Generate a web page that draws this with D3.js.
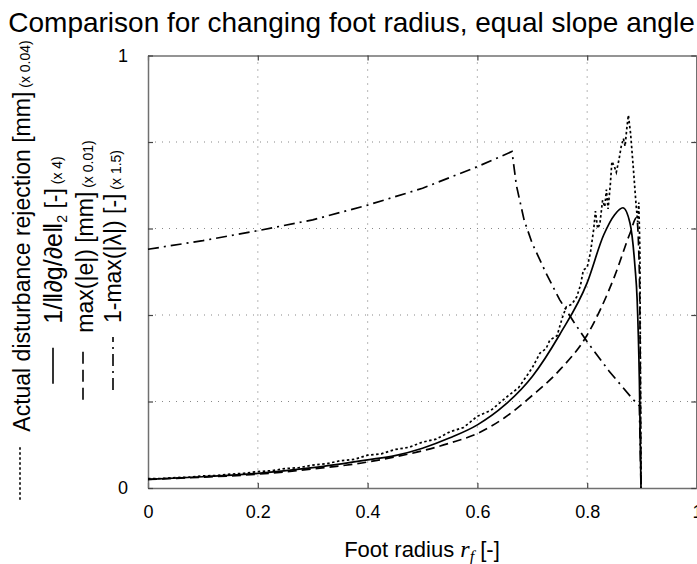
<!DOCTYPE html>
<html>
<head>
<meta charset="utf-8">
<script src="https://cdn.jsdelivr.net/npm/d3@7"></script>
<style>
  body { margin: 0; background: #fff; }
  svg { display: block; font-family: "Liberation Sans", Arial, sans-serif; }
</style>
</head>
<body>
<script>
// foot radius samples and values per series (already scaled as in the legend)
const rfActual = [0, 0.025, 0.05, 0.075, 0.1, 0.125, 0.15, 0.175, 0.2, 0.225, 0.25, 0.275, 0.3, 0.325, 0.35, 0.375, 0.4, 0.425, 0.45, 0.475, 0.5, 0.525, 0.55, 0.575, 0.6, 0.625, 0.65, 0.675, 0.7, 0.714, 0.725, 0.732, 0.745, 0.755, 0.762, 0.772, 0.781, 0.788, 0.793, 0.8, 0.806, 0.812, 0.815, 0.819, 0.823, 0.828, 0.832, 0.835, 0.838, 0.842, 0.845, 0.849, 0.853, 0.858, 0.862, 0.866, 0.869, 0.872, 0.875, 0.879, 0.884, 0.889, 0.892, 0.894, 0.896, 0.898]
const actual = [0.022, 0.022, 0.024, 0.025, 0.028, 0.029, 0.032, 0.034, 0.038, 0.040, 0.045, 0.047, 0.053, 0.056, 0.063, 0.066, 0.076, 0.079, 0.089, 0.094, 0.106, 0.113, 0.130, 0.140, 0.166, 0.180, 0.207, 0.232, 0.278, 0.312, 0.322, 0.342, 0.352, 0.395, 0.419, 0.425, 0.442, 0.47, 0.504, 0.51, 0.545, 0.600, 0.640, 0.600, 0.61, 0.665, 0.650, 0.690, 0.645, 0.700, 0.755, 0.745, 0.730, 0.760, 0.790, 0.808, 0.790, 0.830, 0.862, 0.820, 0.74, 0.655, 0.615, 0.660, 0.55, 0]

const rfGain = [0, 0.1, 0.2, 0.3, 0.4, 0.45, 0.5, 0.55, 0.6, 0.65, 0.7, 0.75, 0.8, 0.83, 0.85, 0.865, 0.878, 0.887, 0.891, 0.895, 0.898]
const gain = [0.020, 0.026, 0.034, 0.047, 0.065, 0.075, 0.092, 0.116, 0.146, 0.192, 0.258, 0.355, 0.475, 0.585, 0.632, 0.648, 0.612, 0.512, 0.435, 0.25, 0]

const rfErr = [0, 0.1, 0.2, 0.3, 0.4, 0.45, 0.5, 0.55, 0.6, 0.65, 0.7, 0.75, 0.8, 0.85, 0.878, 0.89, 0.895, 0.898]
const maxErr = [0.020, 0.025, 0.032, 0.044, 0.060, 0.072, 0.086, 0.104, 0.126, 0.163, 0.214, 0.273, 0.354, 0.49, 0.589, 0.625, 0.50, 0]

const rfEig = [0, 0.1, 0.2, 0.3, 0.4, 0.5, 0.6, 0.663, 0.671, 0.685, 0.7, 0.725, 0.75, 0.775, 0.8, 0.84, 0.884, 0.895, 0.898]
const eig = [0.552, 0.572, 0.595, 0.62, 0.654, 0.693, 0.743, 0.778, 0.70, 0.62, 0.565, 0.497, 0.435, 0.385, 0.338, 0.27, 0.204, 0.19, 0]

const xTicks = [0, 0.2, 0.4, 0.6, 0.8, 1]
const xTickLabels = ["0", "0.2", "0.4", "0.6", "0.8", "1"]
const yTicks = [0, 0.2, 0.4, 0.6, 0.8, 1]
const yTickLabels = ["0", "", "", "", "", "1"]

const width = 697
const height = 564
const mLeft = 148, mRight = 697, mTop = 55.5, mBottom = 488

const svg = d3.select("body").append("svg")
    .attr("width", width)
    .attr("height", height)

const x = d3.scaleLinear().domain([0, 1]).range([mLeft, mRight])
const y = d3.scaleLinear().domain([0, 1]).range([mBottom, mTop])

// dotted grid
const grid = svg.append("g").attr("stroke", "#888").attr("stroke-width", 1.2).attr("stroke-dasharray", "1,6")
grid.selectAll(".gx").data(xTicks.slice(1, -1)).enter().append("line")
    .attr("x1", d => x(d)).attr("x2", d => x(d)).attr("y1", mTop).attr("y2", mBottom)
grid.selectAll(".gy").data(yTicks.slice(1, -1)).enter().append("line")
    .attr("y1", d => y(d)).attr("y2", d => y(d)).attr("x1", mLeft).attr("x2", mRight)

// axes, ticks pointing inwards
const styleAxis = g => {
    g.select(".domain").attr("stroke", "#707070").attr("stroke-width", 1.5)
    g.selectAll(".tick line").attr("stroke", "#444").attr("stroke-width", 1.2)
    g.selectAll("text").attr("font-family", "Liberation Sans, Arial, sans-serif").attr("font-size", 18).attr("fill", "#000")
}
svg.append("g").attr("transform", `translate(0,${mBottom})`)
    .call(d3.axisBottom(x).tickValues(xTicks).tickFormat((d, i) => xTickLabels[i]).tickSize(-5).tickSizeOuter(0).tickPadding(17))
    .call(styleAxis)
svg.append("g").attr("transform", `translate(0,${mTop})`)
    .call(d3.axisTop(x).tickValues(xTicks).tickFormat("").tickSize(-5).tickSizeOuter(0))
    .call(styleAxis)
svg.append("g").attr("transform", `translate(${mLeft},0)`)
    .call(d3.axisLeft(y).tickValues(yTicks).tickFormat((d, i) => yTickLabels[i]).tickSize(-5).tickSizeOuter(0).tickPadding(20))
    .call(styleAxis)
svg.append("g").attr("transform", `translate(${mRight - 0.75},0)`)
    .call(d3.axisRight(y).tickValues(yTicks).tickFormat("").tickSize(-5).tickSizeOuter(0))
    .call(styleAxis)

// series
const series = [
    { rf: rfEig, v: eig, dash: "11,5,2,5", curve: d3.curveLinear },
    { rf: rfErr, v: maxErr, dash: "9,5", curve: d3.curveMonotoneX },
    { rf: rfGain, v: gain, dash: null, curve: d3.curveMonotoneX },
    { rf: rfActual, v: actual, dash: "2.5,2.5", curve: d3.curveLinear }
]
series.forEach(s => {
    const line = d3.line().x(d => x(d[0])).y(d => y(d[1])).curve(s.curve)
    svg.append("path")
        .datum(s.rf.map((r, i) => [r, s.v[i]]))
        .attr("d", line)
        .attr("fill", "none")
        .attr("stroke", "#000")
        .attr("stroke-width", 1.7)
        .attr("stroke-dasharray", s.dash)
})

// title
svg.append("text")
    .attr("x", 351.5).attr("y", 32)
    .attr("text-anchor", "middle")
    .attr("font-size", 28)
    .text("Comparison for changing foot radius, equal slope angle")

// x label
const xl = svg.append("text")
    .attr("x", 422).attr("y", 557)
    .attr("text-anchor", "middle")
    .attr("font-size", 22)
xl.append("tspan").text("Foot radius ")
xl.append("tspan").attr("font-family", "Liberation Serif, serif").attr("font-style", "italic").attr("font-size", 24).text("r")
xl.append("tspan").attr("font-family", "Liberation Serif, serif").attr("font-style", "italic").attr("font-size", 16).attr("dy", 5).text("f")
xl.append("tspan").attr("dy", -5).text(" [-]")

// y label used as legend, one rotated line per series
const legend = [
    { bx: 30, sx: 20, dash: "2.5,2.5", len: 55, gap: 13, parts: [
        { t: "Actual disturbance rejection [mm]", fs: 23 }, { t: " (x 0.04)", fs: 14 }] },
    { bx: 62, sx: 53, dash: null, len: 36, gap: 24, parts: [
        { t: "1/\u2016\u2202g/\u2202e\u2016", fs: 25 }, { t: "2", fs: 14, dy: 5 }, { t: " [-]", fs: 23, dy: -5 }, { t: " (x 4)", fs: 14 }] },
    { bx: 93, sx: 83, dash: "12,6", len: 53, gap: 14, parts: [
        { t: "max(|e|) [mm]", fs: 23 }, { t: " (x 0.01)", fs: 14 }] },
    { bx: 121, sx: 113, dash: "12,5,2,5", len: 53, gap: 14, parts: [
        { t: "1-max(|\u03bb|) [-]", fs: 23 }, { t: " (x 1.5)", fs: 14 }] }
]
const cy = 270
legend.forEach(l => {
    const g = svg.append("g").attr("transform", `translate(${l.bx},${cy}) rotate(-90)`)
    const t = g.append("text")
    l.parts.forEach(p => {
        const ts = t.append("tspan").attr("font-size", p.fs).text(p.t)
        if (p.dy) ts.attr("dy", p.dy)
    })
    const tl = t.node().getComputedTextLength()
    const total = l.len + l.gap + tl
    const start = -total / 2
    t.attr("x", start + l.len + l.gap)
    g.append("line")
        .attr("x1", start).attr("x2", start + l.len)
        .attr("y1", l.sx - l.bx).attr("y2", l.sx - l.bx)
        .attr("stroke", "#000").attr("stroke-width", 1.6)
        .attr("stroke-dasharray", l.dash)
})
</script>
</body>
</html>
